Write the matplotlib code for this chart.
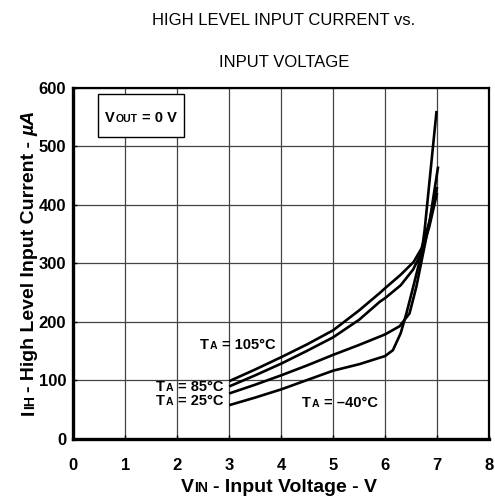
import matplotlib
matplotlib.use("Agg")
import matplotlib.pyplot as plt
from matplotlib.patches import Rectangle
from matplotlib.transforms import Affine2D

plt.rcParams['font.family'] = ['Liberation Sans', 'DejaVu Sans']

# curve data (V, uA)
v_105 = [3.0, 3.5, 4.0, 4.5, 5.0, 5.5, 5.9, 6.0, 6.3, 6.55, 6.7, 6.85, 7.0]
i_105 = [98, 118, 139, 161, 185, 219, 249, 257, 280, 302, 325, 370, 430]

v_85 = [3.0, 3.5, 4.0, 4.5, 5.0, 5.5, 5.9, 6.0, 6.3, 6.54, 6.7, 6.85, 7.0]
i_85 = [89, 108, 128, 150, 173, 203, 234, 240, 262, 289, 318, 362, 420]

v_25 = [3.0, 3.5, 4.0, 4.5, 5.0, 5.5, 6.0, 6.28, 6.47, 6.6, 6.73, 6.86, 7.02]
i_25 = [77, 92, 108, 125, 143, 160, 178, 192, 214, 259, 316, 373, 465]

v_m40 = [3.0, 3.5, 4.0, 4.5, 5.0, 5.5, 6.0, 6.15, 6.3, 6.41, 6.54, 6.7, 6.76, 6.86, 6.99]
i_m40 = [57, 70, 84, 100, 116, 127, 141, 151, 180, 214, 259, 316, 356, 445, 560]

x_ticks = [0, 1, 2, 3, 4, 5, 6, 7, 8]
y_ticks = [0, 100, 200, 300, 400, 500, 600]

fig = plt.figure(figsize=(4.95, 4.99), dpi=100)
ax = fig.add_axes([0.148, 0.1212, 0.840, 0.7034])

for v, i in [(v_105, i_105), (v_85, i_85), (v_25, i_25), (v_m40, i_m40)]:
    ax.plot(v, i, color='black', lw=1.9, solid_capstyle='butt', zorder=3)

ax.set_xlim(0, 8)
ax.set_ylim(0, 600)
ax.set_xticks(x_ticks)
ax.set_yticks(y_ticks)
ax.grid(True, color='#444444', lw=0.9)
ax.tick_params(direction='in', length=3, width=1, labelsize=12)
ax.tick_params(axis='x', pad=14)
ax.tick_params(axis='y', pad=5)
for lab in ax.get_xticklabels() + ax.get_yticklabels():
    lab.set_fontweight('bold')
for side in ['left', 'bottom']:
    ax.spines[side].set_linewidth(2.4)
for side in ['top', 'right']:
    ax.spines[side].set_linewidth(1.6)

renderer = fig.canvas.get_renderer()


def rich_text(x, y, pieces, transform, rotation=0, ha='left'):
    # pieces: (text, size, gap_before_pt, style)
    texts = []
    offs = []
    adv = 0.0
    for s, size, gap, style in pieces:
        adv += gap * fig.dpi / 72.0
        t = fig.text(x, y, s, fontsize=size, fontweight='bold', fontstyle=style,
                     rotation=rotation, rotation_mode='anchor',
                     ha='left', va='baseline', transform=transform)
        bb = t.get_window_extent(renderer)
        offs.append(adv)
        adv += bb.height if rotation == 90 else bb.width
        texts.append(t)
    shift = {'left': 0, 'center': -adv / 2, 'right': -adv}[ha]
    for t, o in zip(texts, offs):
        d = o + shift
        tr = Affine2D().translate(0, d) if rotation == 90 else Affine2D().translate(d, 0)
        t.set_transform(transform + tr)
    return texts


# temperature labels
fs = 10.5
rich_text(2.44, 153, [('T', fs, 0, 'normal'), ('A', fs * 0.72, 0.3, 'normal'),
                      ('= 105°C', fs, 3.8, 'normal')], ax.transData)
rich_text(2.90, 82, [('T', fs, 0, 'normal'), ('A', fs * 0.72, 0.3, 'normal'),
                     ('= 85°C', fs, 3.8, 'normal')], ax.transData, ha='right')
rich_text(2.90, 57, [('T', fs, 0, 'normal'), ('A', fs * 0.72, 0.3, 'normal'),
                     ('= 25°C', fs, 3.8, 'normal')], ax.transData, ha='right')
rich_text(4.40, 54, [('T', fs, 0, 'normal'), ('A', fs * 0.72, 0.3, 'normal'),
                     ('= –40°C', fs, 3.8, 'normal')], ax.transData)

# V_OUT box
ax.add_patch(Rectangle((0.06, 0.858), 0.207, 0.123, transform=ax.transAxes,
                       facecolor='white', edgecolor='black', lw=1.0, zorder=4))
t = rich_text(0.1635, 0.903, [('V', 10.5, 0, 'normal'), ('OUT', 10.5 * 0.72, 0.3, 'normal'),
                              ('= 0 V', 10.5, 3.5, 'normal')], ax.transAxes, ha='center')
for tt in t:
    tt.set_zorder(5)

# axis labels
rich_text(0.563, 0.014, [('V', 14, 0, 'normal'), ('IN', 14 * 0.72, 0.3, 'normal'),
                         ('- Input Voltage - V', 14, 3.5, 'normal')], fig.transFigure, ha='center')
rich_text(0.069, 0.473, [('I', 14, 0, 'normal'), ('IH', 14 * 0.72, 0.3, 'normal'),
                         ('- High Level Input Current -', 14, 2.5, 'normal'),
                         ('µA', 14, 3.5, 'italic')], fig.transFigure, rotation=90, ha='center')

# title
fig.text(0.572, 0.958, 'HIGH LEVEL INPUT CURRENT vs.', ha='center', va='center', fontsize=12)
fig.text(0.575, 0.875, 'INPUT VOLTAGE', ha='center', va='center', fontsize=12)

fig.savefig('out.png', dpi=100)
